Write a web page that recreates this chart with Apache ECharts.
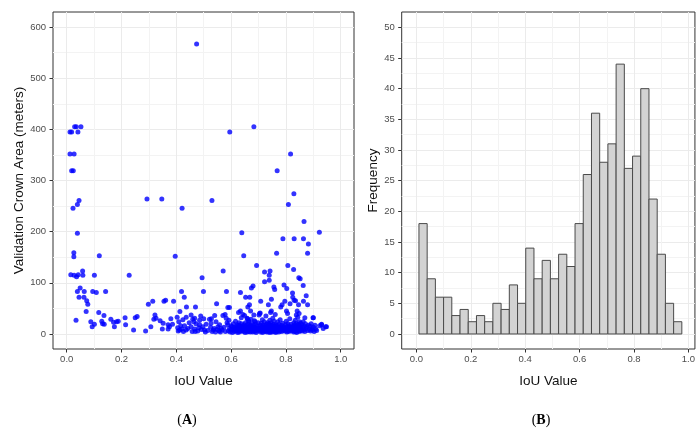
<!DOCTYPE html>
<html>
<head>
<meta charset="utf-8">
<script src="https://cdn.jsdelivr.net/npm/echarts@6/dist/echarts.min.js"></script>
<style>
html,body{margin:0;padding:0;background:#fff;}
#chart{width:698px;height:432px;}
</style>
</head>
<body>
<div id="chart"></div>
<script>
// ---------- data ----------
const iouTicks = [0, 0.2, 0.4, 0.6, 0.8, 1.0];
const iouMinorTicks = [0.1, 0.3, 0.5, 0.7, 0.9];
const areaTicks = [0, 100, 200, 300, 400, 500, 600];
const areaMinorTicks = [50, 150, 250, 350, 450, 550];
const freqTicks = [0, 5, 10, 15, 20, 25, 30, 35, 40, 45, 50];
const freqMinorTicks = [2.5, 7.5, 12.5, 17.5, 22.5, 27.5, 32.5, 37.5, 42.5, 47.5];

// Panel A: IoU value vs validation crown area (m)
const crownPoints = [
  [0.012,395],[0.018,395],[0.029,405],[0.035,405],[0.012,352],[0.027,352],[0.018,319],[0.024,319],[0.023,246],[0.039,253],[0.039,197],[0.026,159],[0.026,151],[0.015,116],[0.027,115],[0.036,112],[0.039,83],[0.034,27],
  [0.041,395],[0.052,405],[0.045,261],[0.042,116],[0.058,123],[0.059,115],[0.049,90],[0.064,83],[0.045,72],[0.063,72],
  [0.073,65],[0.077,58],[0.071,44],[0.095,83],[0.088,24],[0.093,14],
  [0.101,115],[0.119,153],[0.108,81],[0.117,42],[0.101,19],[0.128,25],
  [0.142,83],[0.136,36],[0.137,19],[0.131,20],
  [0.161,29],[0.171,23],[0.174,14],[0.182,24],[0.188,25],
  [0.213,32],[0.215,18],
  [0.228,115],[0.244,8],[0.25,32],
  [0.257,34],
  [0.288,6],[0.293,264],[0.298,58],[0.307,14],
  [0.314,64],[0.318,29],[0.322,37],[0.326,31],
  [0.341,26],[0.352,21],[0.347,264],[0.355,64],[0.361,66],[0.349,10],[0.37,10],[0.37,18],
  [0.38,30],[0.386,19],[0.375,14],[0.39,64],[0.396,152],
  [0.409,24],[0.412,8],[0.416,16],[0.413,44],[0.419,83],[0.429,72],[0.421,246],[0.43,16],[0.405,12],[0.407,6],[0.42,10],[0.424,28],[0.426,5],[0.403,33],
  [0.437,53],[0.436,33],[0.454,37],[0.46,29],[0.436,8],[0.442,11],[0.454,14],[0.447,22],[0.458,5],
  [0.47,53],[0.467,10],[0.472,20],[0.485,18],[0.467,31],[0.464,24],[0.485,27],[0.491,9],[0.478,6],[0.482,12],[0.489,35],[0.469,5],
  [0.474,567],[0.494,110],[0.499,83],[0.497,14],[0.503,8],[0.509,19],[0.5,30],[0.521,29],[0.515,7],[0.506,4],
  [0.53,261],[0.527,21],[0.525,13],[0.547,59],[0.54,36],[0.545,24],[0.552,14],[0.535,8],[0.531,5],[0.538,11],[0.543,4],[0.549,9],[0.528,30],
  [0.571,123],[0.558,18],[0.564,11],[0.57,36],[0.578,38],[0.582,31],[0.556,6],[0.561,4],[0.567,8],[0.574,13],[0.579,5],
  [0.583,83],[0.588,52],[0.594,52],[0.595,395],[0.588,18],[0.594,11],[0.6,16],[0.606,8],[0.61,12],[0.59,6],[0.597,4],[0.603,14],[0.585,22],[0.608,20],[0.612,5],[0.599,9],[0.592,27],[0.605,3],
  [0.639,198],[0.634,81],[0.627,42],[0.634,45],[0.637,32],[0.643,38],[0.615,10],[0.618,14],[0.62,6],[0.622,18],[0.625,8],[0.628,12],[0.63,4],[0.632,16],[0.635,9],[0.638,20],[0.64,7],[0.616,25],[0.621,11],[0.624,3],[0.629,22],[0.633,13],[0.636,6],[0.641,15],[0.619,8],[0.626,17],
  [0.646,153],[0.653,72],[0.668,72],[0.667,57],[0.661,53],[0.671,45],[0.649,36],[0.658,31],[0.665,24],[0.673,29],
  [0.644,12],[0.645,5],[0.647,18],[0.648,8],[0.65,14],[0.651,3],[0.652,22],[0.654,10],[0.655,6],[0.656,16],[0.657,9],[0.659,4],[0.66,13],[0.661,19],[0.662,7],[0.663,11],[0.664,26],[0.665,5],[0.666,15],[0.667,9],[0.669,12],[0.67,4],[0.671,17],[0.672,8],[0.673,10],[0.66,30],
  [0.674,90],[0.68,94],[0.693,134],[0.683,405],[0.683,37],[0.688,24],[0.702,37],[0.704,40],
  [0.675,14],[0.676,6],[0.677,20],[0.678,9],[0.679,4],[0.68,12],[0.682,17],[0.683,7],[0.684,10],[0.685,26],[0.686,5],[0.687,13],[0.689,8],[0.69,19],[0.691,3],[0.693,11],[0.695,15],[0.697,6],[0.699,22],[0.7,9],[0.702,12],
  [0.708,64],[0.722,121],[0.722,102],[0.706,41],
  [0.705,8],[0.706,17],[0.707,4],[0.709,12],[0.71,21],[0.711,6],[0.712,14],[0.713,9],[0.714,28],[0.715,3],[0.716,11],[0.717,18],[0.718,7],[0.719,13],[0.72,5],[0.721,24],[0.723,10],[0.724,16],[0.725,6],[0.726,12],[0.727,35],[0.728,8],[0.729,19],[0.73,4],[0.731,14],[0.732,9],[0.733,22],
  [0.742,123],[0.739,115],[0.739,105],[0.756,92],[0.759,87],[0.747,68],[0.736,57],[0.747,45],
  [0.735,7],[0.735,15],[0.736,4],[0.737,11],[0.738,20],[0.739,6],[0.74,13],[0.741,9],[0.741,27],[0.742,3],[0.743,16],[0.744,8],[0.745,12],[0.746,5],[0.746,22],[0.747,10],[0.748,17],[0.749,7],[0.75,14],[0.751,4],[0.752,31],[0.753,9],[0.754,19],[0.755,6],[0.756,12],[0.757,25],[0.758,8],[0.759,15],[0.76,5],[0.761,11],[0.761,38],[0.762,7],[0.763,18],[0.763,3],[0.764,13],[0.744,42],
  [0.768,319],[0.766,158],[0.789,186],[0.793,96],[0.781,53],[0.786,57],
  [0.765,9],[0.766,16],[0.767,5],[0.769,12],[0.77,24],[0.771,7],[0.772,14],[0.774,4],[0.775,19],[0.776,10],[0.778,6],[0.779,28],[0.78,13],[0.782,8],[0.783,17],[0.785,5],[0.787,11],[0.788,21],[0.79,7],[0.791,14],[0.793,9],
  [0.817,352],[0.809,253],[0.807,134],[0.803,89],[0.824,80],[0.825,72],[0.796,64],[0.815,59],[0.802,45],[0.806,40],
  [0.795,12],[0.797,6],[0.798,18],[0.8,9],[0.801,25],[0.803,4],[0.804,14],[0.805,7],[0.807,20],[0.808,11],[0.81,5],[0.811,16],[0.813,8],[0.814,30],[0.816,12],[0.818,6],[0.819,19],[0.821,10],[0.823,14],
  [0.829,274],[0.83,186],[0.828,126],[0.847,110],[0.852,108],[0.835,65],[0.846,57],[0.841,45],[0.848,40],[0.83,66],
  [0.826,7],[0.827,15],[0.828,4],[0.829,22],[0.83,10],[0.831,6],[0.832,18],[0.833,12],[0.834,27],[0.835,5],[0.836,14],[0.837,9],[0.838,20],[0.839,3],[0.84,11],[0.841,16],[0.842,7],[0.843,33],[0.844,13],[0.845,8],[0.846,19],[0.847,5],[0.848,12],[0.849,24],[0.85,9],[0.851,15],[0.852,6],[0.853,11],[0.854,21],[0.838,37],
  [0.864,186],[0.882,176],[0.879,158],[0.866,220],[0.863,95],[0.874,75],[0.864,64],[0.879,57],[0.869,32],
  [0.856,10],[0.858,18],[0.859,6],[0.861,13],[0.863,24],[0.865,8],[0.867,15],[0.869,5],[0.871,20],[0.873,11],[0.876,14],[0.879,7],[0.882,17],
  [0.899,32],[0.9,32],
  [0.886,9],[0.888,15],[0.89,6],[0.892,20],[0.894,11],[0.897,8],[0.9,13],[0.903,5],[0.906,17],[0.909,10],[0.912,7],
  [0.922,199],[0.93,19],[0.936,11],[0.923,16],[0.93,18],
  [0.948,14],[0.945,14]
];

// Panel B: histogram of IoU values
const binStart = 0.0095;
const binWidth = 0.0302;
const binCounts = [18, 9, 6, 6, 3, 4, 2, 3, 2, 5, 4, 8, 5, 14, 9, 12, 9, 13, 11, 18, 26, 36, 28, 31, 44, 27, 29, 40, 22, 13, 5, 2];

// ---------- chart ----------
const FONT = '"Liberation Sans", Arial, sans-serif';
const tickColor = '#333333';
const labelColor = '#4d4d4d';
const majorGrid = '#ebebeb';
const minorGrid = '#f3f3f3';

function mainAxis(gridIndex, min, max, ticks, fmt, name, nameGap, isX) {
  return {
    type: 'value', gridIndex, min, max,
    name, nameLocation: 'middle', nameGap,
    nameTextStyle: { fontFamily: FONT, fontSize: 13.5, color: '#111' },
    axisLine: { show: false, onZero: false },
    axisTick: { show: true, length: 3.5, customValues: ticks, lineStyle: { color: tickColor, width: 1 } },
    axisLabel: { show: true, customValues: ticks, formatter: fmt, fontFamily: FONT, fontSize: 9.5, color: labelColor, margin: isX ? 5 : 7 },
    splitLine: { show: true, lineStyle: { color: majorGrid, width: 1 } },
    minorTick: { show: false }, minorSplitLine: { show: false }
  };
}
function minorAxis(gridIndex, min, max, ticks) {
  return {
    type: 'value', gridIndex, min, max,
    axisLine: { show: false, onZero: false },
    axisTick: { show: false, customValues: ticks },
    axisLabel: { show: false, customValues: ticks },
    splitLine: { show: true, lineStyle: { color: minorGrid, width: 1 } }
  };
}

const fmt1 = v => v.toFixed(1);
const fmt0 = v => String(v);

const histData = binCounts.map((c, i) => [binStart + i * binWidth, binStart + (i + 1) * binWidth, c]);

const option = {
  backgroundColor: '#ffffff',
  animation: false,
  grid: [
    { left: 53, top: 12, width: 301, height: 337, show: true, borderColor: '#333', borderWidth: 1, backgroundColor: '#fff', containLabel: false },
    { left: 401.7, top: 12, width: 300, height: 337, show: true, borderColor: '#333', borderWidth: 1, backgroundColor: '#fff', containLabel: false }
  ],
  xAxis: [
    mainAxis(0, -0.05, 1.0484, iouTicks, fmt1, 'IoU Value', 25, true),
    minorAxis(0, -0.05, 1.0484, iouMinorTicks),
    mainAxis(1, -0.0539, 1.024, iouTicks, fmt1, 'IoU Value', 25, true),
    minorAxis(1, -0.0539, 1.024, iouMinorTicks)
  ],
  yAxis: [
    mainAxis(0, -29.3, 629.5, areaTicks, fmt0, 'Validation Crown Area (meters)', 26, false),
    minorAxis(0, -29.3, 629.5, areaMinorTicks),
    mainAxis(1, -2.45, 52.5, freqTicks, fmt0, 'Frequency', 20, false),
    minorAxis(1, -2.45, 52.5, freqMinorTicks)
  ],
  series: [
    {
      type: 'scatter', xAxisIndex: 0, yAxisIndex: 0,
      data: crownPoints, symbol: 'circle', symbolSize: 5,
      itemStyle: { color: '#0000ff', borderWidth: 0 },
      z: 5
    },
    {
      type: 'custom', xAxisIndex: 2, yAxisIndex: 2,
      data: histData, encode: { x: [0, 1], y: 2 },
      renderItem: function (params, api) {
        const p0 = api.coord([api.value(0), 0]);
        const p1 = api.coord([api.value(1), api.value(2)]);
        return {
          type: 'rect',
          shape: { x: p0[0], y: p1[1], width: p1[0] - p0[0], height: p0[1] - p1[1] },
          style: { fill: '#d3d3d3', stroke: '#4a4a4a', lineWidth: 1 }
        };
      },
      z: 5
    }
  ],
  graphic: [
    { type: 'text', x: 187, y: 420, style: { text: '{p|(}{b|A}{p|)}', align: 'center', verticalAlign: 'middle',
      rich: { p: { fontFamily: '"Liberation Serif", "Times New Roman", serif', fontSize: 14, fill: '#000' },
              b: { fontFamily: '"Liberation Serif", "Times New Roman", serif', fontSize: 14, fontWeight: 'bold', fill: '#000' } } } },
    { type: 'text', x: 541, y: 420, style: { text: '{p|(}{b|B}{p|)}', align: 'center', verticalAlign: 'middle',
      rich: { p: { fontFamily: '"Liberation Serif", "Times New Roman", serif', fontSize: 14, fill: '#000' },
              b: { fontFamily: '"Liberation Serif", "Times New Roman", serif', fontSize: 14, fontWeight: 'bold', fill: '#000' } } } }
  ]
};

const chart = echarts.init(document.getElementById('chart'), null, { renderer: 'canvas', width: 698, height: 432 });
chart.setOption(option);
</script>
</body>
</html>
